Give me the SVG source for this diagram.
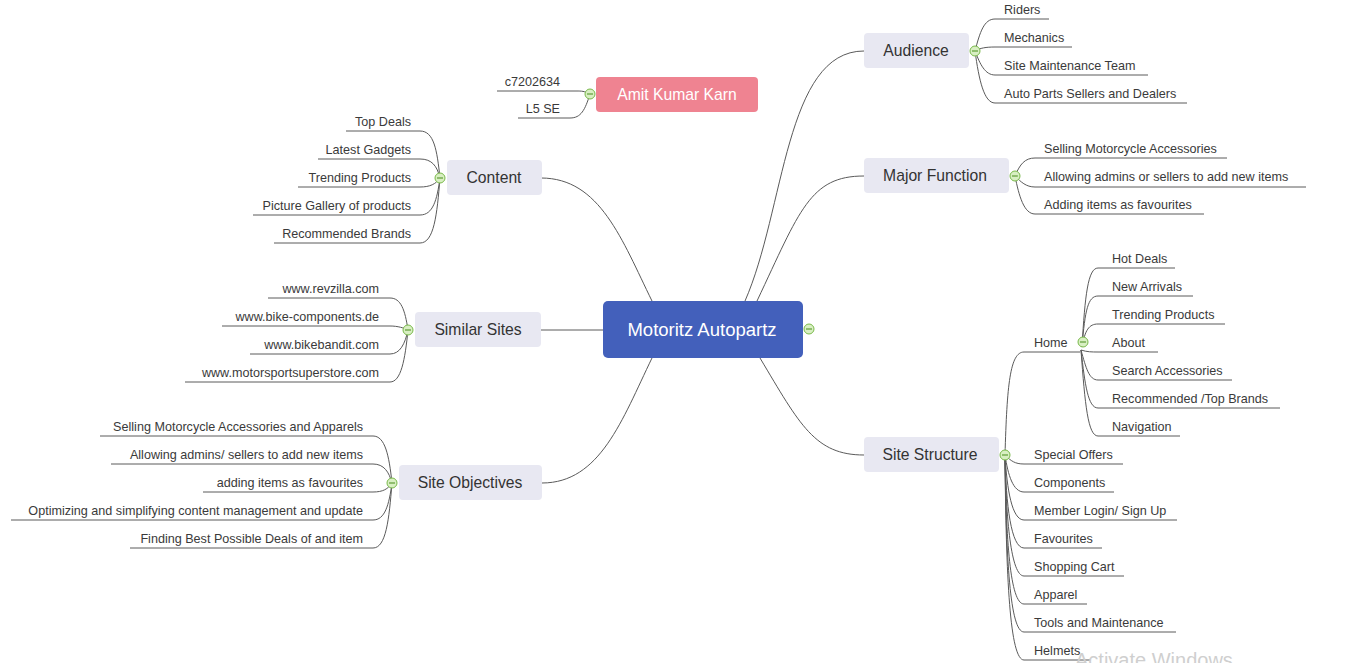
<svg xmlns="http://www.w3.org/2000/svg" width="1363" height="663" viewBox="0 0 1363 663">
<style>
.bg{fill:#ffffff}
.topic{fill:#e8e8f2}
.tt{font-family:"Liberation Sans",Arial,sans-serif;font-size:15.7px;fill:#333333;text-anchor:middle}
.leaf{font-family:"Liberation Sans",Arial,sans-serif;font-size:12.6px;fill:#3a3a3a}
.l{text-anchor:end}
.c{fill:none;stroke:#5a5a5a;stroke-width:1}
.col circle{fill:#d8efc2;stroke:#79b94a;stroke-width:1}
.col line{stroke:#5f9c36;stroke-width:1.2}
.wm{font-family:"Liberation Sans",Arial,sans-serif;font-size:20px;fill:#cfcfcf}
</style>
<rect class="bg" x="0" y="0" width="1363" height="663"/>

<g id="connectors">
  <path class="c" d="M541,178 C600,178 622,240 652,301"/>
  <path class="c" d="M541,330 H603"/>
  <path class="c" d="M542,483 C600,483 622,420 652,358"/>
  <path class="c" d="M745,301 C785,210 785,51 864,51"/>
  <path class="c" d="M757,301 C800,210 810,176 864,176"/>
  <path class="c" d="M760,358 C800,425 815,455 864,455"/>
  <path class="c" d="M590,94 C584,91 582,91 576,91 H497"/>
  <path class="c" d="M590,94 C585,110 581,118 570,118 H518"/>
  <path class="c" d="M440,178 C437,150 434,131 420,131 H346"/>
  <path class="c" d="M440,178 C437,166 432,159 420,159 H318"/>
  <path class="c" d="M440,178 C436,184 430,187 420,187 H298"/>
  <path class="c" d="M440,178 C437,200 433,215 420,215 H253"/>
  <path class="c" d="M440,178 C437,215 434,243 420,243 H274"/>
  <path class="c" d="M408,330 C405,310 401,298 390,298 H268"/>
  <path class="c" d="M408,330 C404,328 398,326 390,326 H222"/>
  <path class="c" d="M408,330 C405,344 400,354 390,354 H250"/>
  <path class="c" d="M408,330 C405,360 401,382 390,382 H185"/>
  <path class="c" d="M392,483 C389,455 385,436 373,436 H100"/>
  <path class="c" d="M392,483 C389,472 384,464 373,464 H111"/>
  <path class="c" d="M392,483 C388,489 383,492 373,492 H203"/>
  <path class="c" d="M392,483 C389,505 385,520 373,520 H11"/>
  <path class="c" d="M392,483 C389,520 386,548 373,548 H130"/>
  <path class="c" d="M975,51 C980,32 984,19 995,19 H1049"/>
  <path class="c" d="M975,51 C980,48 986,47 995,47 H1072"/>
  <path class="c" d="M975,51 C980,64 985,75 995,75 H1148"/>
  <path class="c" d="M975,51 C979,80 984,103 995,103 H1187"/>
  <path class="c" d="M1015,176 C1020,164 1025,158 1035,158 H1227"/>
  <path class="c" d="M1015,176 C1021,182 1026,187 1035,187 H1306"/>
  <path class="c" d="M1015,176 C1019,196 1024,214 1035,214 H1204"/>
  <path class="c" d="M1005,455 C1007,385 1010,352 1024,352 H1080"/>
  <path class="c" d="M1005,455 C1011,461 1015,464 1024,464 H1123"/>
  <path class="c" d="M1005,455 C1008,475 1013,492 1024,492 H1114"/>
  <path class="c" d="M1005,455 C1007,490 1012,520 1024,520 H1177"/>
  <path class="c" d="M1005,455 C1006,505 1011,548 1024,548 H1102"/>
  <path class="c" d="M1005,455 C1006,520 1011,576 1024,576 H1124"/>
  <path class="c" d="M1005,455 C1006,540 1010,604 1024,604 H1087"/>
  <path class="c" d="M1005,455 C1006,560 1010,632 1024,632 H1176"/>
  <path class="c" d="M1005,455 C1006,580 1010,660 1024,660 H1090"/>
  <path class="c" d="M1082,347 C1085,295 1088,268 1098,268 H1175"/>
  <path class="c" d="M1082,347 C1085,310 1088,296 1098,296 H1193"/>
  <path class="c" d="M1082,347 C1085,330 1089,324 1098,324 H1225"/>
  <path class="c" d="M1081,350 C1087,352 1092,352 1098,352 H1158"/>
  <path class="c" d="M1081,350 C1086,368 1089,380 1098,380 H1232"/>
  <path class="c" d="M1081,350 C1085,385 1088,408 1098,408 H1280"/>
  <path class="c" d="M1081,350 C1085,405 1088,436 1098,436 H1180"/>
</g>

<g id="center">
  <rect x="603" y="301" width="200" height="57" rx="5" fill="#4360bb"/>
  <text x="702" y="336" font-family="Liberation Sans, Arial, sans-serif" font-size="18.5" fill="#ffffff" text-anchor="middle">Motoritz Autopartz</text>
  <g class="col"><circle cx="809" cy="329" r="5"/><line x1="806" y1="329" x2="812" y2="329"/></g>
</g>

<g id="amit">
  <rect x="596" y="77" width="162" height="35" rx="4" fill="#ef8391"/>
  <text x="677" y="100" class="tt" style="fill:#ffffff">Amit Kumar Karn</text>
  <text x="560" y="85.5" class="leaf l">c7202634</text>
  <text x="560" y="112.5" class="leaf l">L5 SE</text>
  <g class="col"><circle cx="590" cy="94" r="5"/><line x1="587" y1="94" x2="593" y2="94"/></g>
</g>

<g id="content">
  <rect class="topic" x="447" y="160" width="95" height="35" rx="4"/>
  <text x="494" y="183" class="tt">Content</text>
  <text x="411" y="125.5" class="leaf l">Top Deals</text>
  <text x="411" y="153.5" class="leaf l">Latest Gadgets</text>
  <text x="411" y="181.5" class="leaf l">Trending Products</text>
  <text x="411" y="209.5" class="leaf l">Picture Gallery of products</text>
  <text x="411" y="237.5" class="leaf l">Recommended Brands</text>
  <g class="col"><circle cx="440" cy="178" r="5"/><line x1="437" y1="178" x2="443" y2="178"/></g>
</g>

<g id="similar">
  <rect class="topic" x="415" y="312" width="126" height="35" rx="4"/>
  <text x="478" y="335" class="tt">Similar Sites</text>
  <text x="379" y="292.5" class="leaf l">www.revzilla.com</text>
  <text x="379" y="320.5" class="leaf l">www.bike-components.de</text>
  <text x="379" y="348.5" class="leaf l">www.bikebandit.com</text>
  <text x="379" y="376.5" class="leaf l">www.motorsportsuperstore.com</text>
  <g class="col"><circle cx="408" cy="330" r="5"/><line x1="405" y1="330" x2="411" y2="330"/></g>
</g>

<g id="objectives">
  <rect class="topic" x="399" y="465" width="143" height="35" rx="4"/>
  <text x="470" y="488" class="tt">Site Objectives</text>
  <text x="363" y="430.5" class="leaf l">Selling Motorcycle Accessories and Apparels</text>
  <text x="363" y="458.5" class="leaf l">Allowing admins/ sellers to add new items</text>
  <text x="363" y="486.5" class="leaf l">adding items as favourites</text>
  <text x="363" y="514.5" class="leaf l">Optimizing and simplifying content management and update</text>
  <text x="363" y="542.5" class="leaf l">Finding Best Possible Deals of and item</text>
  <g class="col"><circle cx="392" cy="483" r="5"/><line x1="389" y1="483" x2="395" y2="483"/></g>
</g>

<g id="audience">
  <rect class="topic" x="864" y="33" width="105" height="35" rx="4"/>
  <text x="916" y="56" class="tt">Audience</text>
  <text x="1004" y="13.5" class="leaf">Riders</text>
  <text x="1004" y="41.5" class="leaf">Mechanics</text>
  <text x="1004" y="69.5" class="leaf">Site Maintenance Team</text>
  <text x="1004" y="97.5" class="leaf">Auto Parts Sellers and Dealers</text>
  <g class="col"><circle cx="975" cy="51" r="5"/><line x1="972" y1="51" x2="978" y2="51"/></g>
</g>

<g id="major">
  <rect class="topic" x="864" y="158" width="145" height="35" rx="4"/>
  <text x="935" y="181" class="tt">Major Function</text>
  <text x="1044" y="152.5" class="leaf">Selling Motorcycle Accessories</text>
  <text x="1044" y="180.5" class="leaf">Allowing admins or sellers to add new items</text>
  <text x="1044" y="208.5" class="leaf">Adding items as favourites</text>
  <g class="col"><circle cx="1015" cy="176" r="5"/><line x1="1012" y1="176" x2="1018" y2="176"/></g>
</g>

<g id="structure">
  <rect class="topic" x="864" y="437" width="135" height="35" rx="4"/>
  <text x="930" y="460" class="tt">Site Structure</text>
  <text x="1034" y="458.5" class="leaf">Special Offers</text>
  <text x="1034" y="486.5" class="leaf">Components</text>
  <text x="1034" y="514.5" class="leaf">Member Login/ Sign Up</text>
  <text x="1034" y="542.5" class="leaf">Favourites</text>
  <text x="1034" y="570.5" class="leaf">Shopping Cart</text>
  <text x="1034" y="598.5" class="leaf">Apparel</text>
  <text x="1034" y="626.5" class="leaf">Tools and Maintenance</text>
  <text x="1034" y="654.5" class="leaf">Helmets</text>
  <g class="col"><circle cx="1005" cy="455" r="5"/><line x1="1002" y1="455" x2="1008" y2="455"/></g>
</g>

<g id="home">
  <text x="1034" y="346.5" class="leaf">Home</text>
  <text x="1112" y="262.5" class="leaf">Hot Deals</text>
  <text x="1112" y="290.5" class="leaf">New Arrivals</text>
  <text x="1112" y="318.5" class="leaf">Trending Products</text>
  <text x="1112" y="346.5" class="leaf">About</text>
  <text x="1112" y="374.5" class="leaf">Search Accessories</text>
  <text x="1112" y="402.5" class="leaf">Recommended /Top Brands</text>
  <text x="1112" y="430.5" class="leaf">Navigation</text>
  <g class="col"><circle cx="1083" cy="342" r="5"/><line x1="1080" y1="342" x2="1086" y2="342"/></g>
</g>

<text x="1075" y="667" class="wm">Activate Windows</text>
</svg>
